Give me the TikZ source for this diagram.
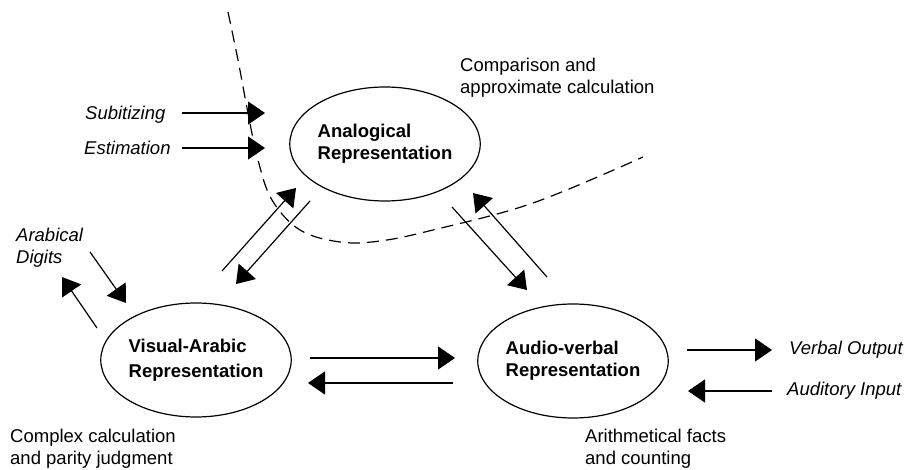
\documentclass[tikz,border=0pt]{standalone}
\usepackage{fontspec}
\setmainfont{Liberation Sans}
\usetikzlibrary{shapes.geometric,arrows.meta}
\begin{document}
\begin{tikzpicture}[x=1pt,y=-1pt,
  every node/.style={inner sep=0pt},
  txt/.style={font=\fontsize{18.5}{22}\selectfont, align=left, anchor=base west},
  itxt/.style={txt, font=\fontsize{18.5}{22}\selectfont\itshape},
  repr/.style={draw, ellipse, line width=1.2pt, minimum width=190pt, minimum height=114pt,
    font=\fontsize{18.5}{22}\selectfont\bfseries, align=left},
  arr/.style={line width=1.2pt, -{Triangle[length=17pt,width=23pt]}},
  sep/.style={dash pattern=on 12pt off 7pt, line width=1.2pt}]
\useasboundingbox (0,0) rectangle (906,470);

% dashed separator
\draw[sep] plot[smooth, tension=0.6] coordinates {(228,12) (238,60) (248,113) (258,160) (272,200) (300,230) (340,242) (380,241) (433,230) (533,203) (643,157)};

% representations
\node[repr] (ana) at (385,144) {Analogical\\Representation};
\node[repr] (vis) at (196,360) {Visual-Arabic\\[3pt]Representation};
\node[repr] (aud) at (573,361) {Audio-verbal\\Representation};

% labels (base anchor = baseline of last line)
\node[itxt] (subi) at (85,119.5) {Subitizing};
\node[itxt] (esti) at (84,154.5) {Estimation};
\node[itxt] (digi) at (16,263.5) {Arabical\\Digits};
\node[txt] (comp) at (460,93.5) {Comparison and\\approximate calculation};
\node[txt] (cplx) at (10,465) {Complex calculation\\and parity judgment};
\node[txt] (arit) at (585,465) {Arithmetical facts\\and counting};
\node[itxt] (vout) at (789,355) {Verbal Output};
\node[itxt] (ainp) at (787,396) {Auditory Input};

% arrow end points
\coordinate (s1) at (182,113); \coordinate (s2) at (265,113);
\coordinate (e1) at (182,148); \coordinate (e2) at (265,148);
\coordinate (d1) at (90,252);  \coordinate (d2) at (126,303);
\coordinate (o1) at (97,328);  \coordinate (o2) at (62,277);
\coordinate (va1) at (222,271); \coordinate (va2) at (296,188);
\coordinate (av1) at (310,201); \coordinate (av2) at (236,284);
\coordinate (au1) at (452,207); \coordinate (au2) at (527,290);
\coordinate (ua1) at (547,277); \coordinate (ua2) at (473,193);
\coordinate (vu1) at (310,358); \coordinate (vu2) at (455,358);
\coordinate (uv1) at (453,383); \coordinate (uv2) at (308,383);
\coordinate (vo1) at (687,350); \coordinate (vo2) at (772,350);
\coordinate (ai1) at (772,391); \coordinate (ai2) at (688,391);

\draw[arr] (s1) -- (s2);
\draw[arr] (e1) -- (e2);
\draw[arr] (d1) -- (d2);
\draw[arr] (o1) -- (o2);
\draw[arr] (va1) -- (va2);
\draw[arr] (av1) -- (av2);
\draw[arr] (au1) -- (au2);
\draw[arr] (ua1) -- (ua2);
\draw[arr] (vu1) -- (vu2);
\draw[arr] (uv1) -- (uv2);
\draw[arr] (vo1) -- (vo2);
\draw[arr] (ai1) -- (ai2);
\end{tikzpicture}
\end{document}
